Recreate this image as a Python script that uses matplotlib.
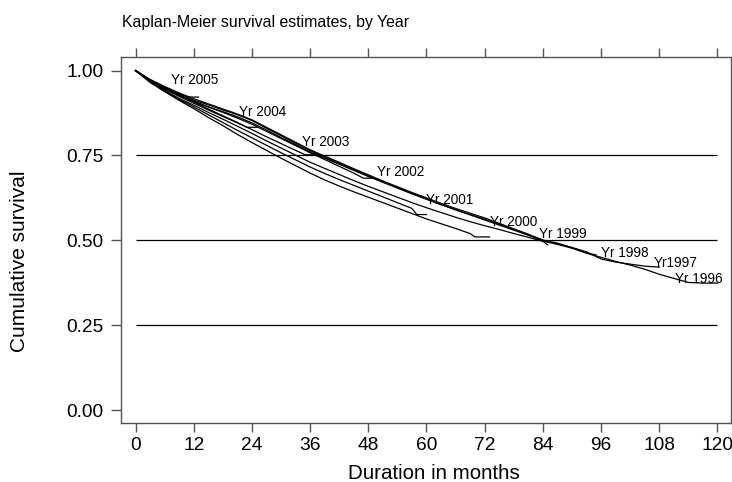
import matplotlib
matplotlib.use("Agg")
import matplotlib.pyplot as plt

plt.rcParams['font.family'] = ['Liberation Sans', 'DejaVu Sans']

# Kaplan-Meier estimates (months, survival)
t_1996 = [0, 3, 6, 9, 12, 15, 18, 21, 24, 27, 30, 33, 36, 39, 42, 45, 48, 51, 54, 57, 60,
          63, 66, 69, 72, 75, 78, 81, 84, 87, 90, 93, 96, 99, 102, 105, 108, 111, 114, 117, 120]
s_1996 = [1.000, 0.972, 0.950, 0.930, 0.913, 0.899, 0.884, 0.870, 0.853, 0.830, 0.808, 0.786,
          0.764, 0.745, 0.727, 0.708, 0.690, 0.672, 0.655, 0.638, 0.622, 0.606, 0.590, 0.575,
          0.560, 0.545, 0.530, 0.515, 0.498, 0.488, 0.477, 0.462, 0.450, 0.438, 0.427, 0.415,
          0.400, 0.388, 0.376, 0.374, 0.374]

t_1997 = [0, 3, 6, 9, 12, 15, 18, 21, 24, 27, 30, 33, 36, 39, 42, 45, 48, 51, 54, 57, 60,
          63, 66, 69, 72, 75, 78, 81, 84, 87, 90, 93, 96, 99, 102, 105, 108]
s_1997 = [1.000, 0.970, 0.947, 0.926, 0.909, 0.893, 0.879, 0.864, 0.846, 0.825, 0.803, 0.782,
          0.760, 0.742, 0.724, 0.706, 0.688, 0.671, 0.654, 0.637, 0.621, 0.605, 0.590, 0.576,
          0.562, 0.547, 0.532, 0.516, 0.500, 0.490, 0.479, 0.466, 0.445, 0.436, 0.430, 0.424,
          0.421]

t_1998 = [0, 3, 6, 9, 12, 15, 18, 21, 24, 27, 30, 33, 36, 39, 42, 45, 48, 51, 54, 57, 60,
          63, 66, 69, 72, 75, 78, 81, 84, 87, 90, 93, 95]
s_1998 = [1.000, 0.974, 0.953, 0.934, 0.917, 0.902, 0.887, 0.872, 0.855, 0.833, 0.811, 0.789,
          0.767, 0.748, 0.730, 0.711, 0.693, 0.675, 0.658, 0.641, 0.625, 0.609, 0.594, 0.580,
          0.566, 0.550, 0.534, 0.518, 0.501, 0.492, 0.478, 0.463, 0.457]

t_1999 = [0, 3, 6, 9, 12, 15, 18, 21, 24, 27, 30, 33, 36, 39, 42, 45, 48, 51, 54, 57, 60,
          63, 66, 69, 72, 75, 78, 81, 84, 85]
s_1999 = [1.000, 0.968, 0.942, 0.918, 0.898, 0.877, 0.857, 0.836, 0.815, 0.793, 0.772, 0.751,
          0.730, 0.712, 0.694, 0.676, 0.659, 0.643, 0.627, 0.611, 0.596, 0.582, 0.568, 0.555,
          0.543, 0.532, 0.520, 0.509, 0.497, 0.487]

t_2000 = [0, 3, 6, 9, 12, 15, 18, 21, 24, 27, 30, 33, 36, 39, 42, 45, 48, 51, 54, 57, 60,
          63, 66, 69, 70, 73]
s_2000 = [1.000, 0.965, 0.938, 0.912, 0.888, 0.862, 0.838, 0.812, 0.788, 0.765, 0.742, 0.720,
          0.698, 0.678, 0.660, 0.643, 0.627, 0.611, 0.595, 0.579, 0.563, 0.549, 0.535, 0.520,
          0.510, 0.510]

t_2001 = [0, 3, 6, 9, 12, 15, 18, 21, 24, 27, 30, 33, 36, 39, 42, 45, 48, 51, 54, 57, 58, 60]
s_2001 = [1.000, 0.967, 0.940, 0.915, 0.893, 0.870, 0.847, 0.824, 0.802, 0.780, 0.758, 0.737,
          0.716, 0.697, 0.679, 0.662, 0.645, 0.628, 0.611, 0.594, 0.576, 0.576]

t_2002 = [0, 3, 6, 9, 12, 15, 18, 21, 24, 27, 30, 33, 36, 39, 42, 45, 47, 49]
s_2002 = [1.000, 0.972, 0.949, 0.928, 0.910, 0.893, 0.877, 0.860, 0.842, 0.821, 0.800, 0.779,
          0.758, 0.738, 0.718, 0.698, 0.683, 0.683]

t_2003 = [0, 3, 6, 9, 12, 15, 18, 21, 24, 27, 30, 33, 35, 37]
s_2003 = [1.000, 0.970, 0.946, 0.924, 0.904, 0.884, 0.865, 0.846, 0.826, 0.805, 0.785, 0.765,
          0.752, 0.752]

t_2004 = [0, 3, 6, 9, 12, 15, 18, 21, 23, 25]
s_2004 = [1.000, 0.971, 0.948, 0.927, 0.907, 0.887, 0.867, 0.847, 0.833, 0.833]

t_2005 = [0, 3, 6, 9, 11, 13]
s_2005 = [1.000, 0.972, 0.950, 0.932, 0.922, 0.922]

curves = [(t_1996, s_1996), (t_1997, s_1997), (t_1998, s_1998), (t_1999, s_1999),
          (t_2000, s_2000), (t_2001, s_2001), (t_2002, s_2002), (t_2003, s_2003),
          (t_2004, s_2004), (t_2005, s_2005)]

label_text = ["Yr 2005", "Yr 2004", "Yr 2003", "Yr 2002", "Yr 2001", "Yr 2000",
              "Yr 1999", "Yr 1998", "Yr1997", "Yr 1996"]
label_t = [7.3, 21.3, 34.3, 49.8, 59.9, 73.1, 83.2, 96.0, 106.9, 111.2]
label_s = [0.971, 0.879, 0.790, 0.700, 0.619, 0.554, 0.519, 0.463, 0.434, 0.386]

x_ticks = [0, 12, 24, 36, 48, 60, 72, 84, 96, 108, 120]
y_ticks = [0.00, 0.25, 0.50, 0.75, 1.00]
grid_levels = [0.25, 0.50, 0.75]

fig = plt.figure(figsize=(7.32, 4.82), dpi=100)
ax = fig.add_axes([121 / 732, 1 - 423 / 482, 610 / 732, 366 / 482])

frame_col = '#555555'
for sp in ax.spines.values():
    sp.set_color(frame_col)
    sp.set_linewidth(1.0)

ax.hlines(grid_levels, 0, 120, color='black', lw=0.9, zorder=1)

for t, s in curves:
    ax.plot(t, s, color='black', lw=0.9, zorder=2)

for txt, tx, sy in zip(label_text, label_t, label_s):
    ax.text(tx, sy, txt, fontsize=9.8, ha='left', va='center', zorder=3)

ax.set_xlim(-3.0, 122.8)
ax.set_ylim(-0.038, 1.040)
ax.set_xticks(x_ticks)
ax.set_yticks(y_ticks)
ax.set_yticklabels([f"{v:.2f}" for v in y_ticks])
ax.tick_params(axis='x', top=True, labeltop=False, direction='out', length=6.5,
               width=1, color=frame_col, labelsize=13.8, pad=3.5)
ax.tick_params(axis='y', right=False, direction='out', length=7.2,
               width=1, color=frame_col, labelsize=13.8, pad=5.6)

fig.text(433.5 / 732, 1 - 479.3 / 482, "Duration in months", fontsize=14.8,
         ha='center', va='baseline')
fig.text(20 / 732, 1 - 261 / 482, "Cumulative survival", fontsize=15,
         ha='center', va='center', rotation=90)
fig.text(122 / 732, 1 - 22 / 482, "Kaplan-Meier survival estimates, by Year",
         fontsize=11.4, ha='left', va='center')

fig.savefig("out.png", dpi=100)
